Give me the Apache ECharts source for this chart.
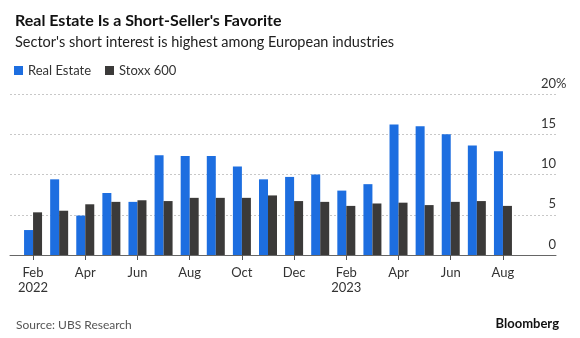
<!DOCTYPE html>
<html>
<head>
<meta charset="utf-8">
<script src="https://cdn.jsdelivr.net/npm/echarts@6/dist/echarts.min.js"></script>
<style>
  html, body { margin: 0; padding: 0; background: #fff; }
  #chart { width: 580px; height: 338px; }
</style>
</head>
<body>
<div id="chart"></div>
<script>
// Short interest by month, % of shares
const months = ['Feb', 'Mar', 'Apr', 'May', 'Jun', 'Jul', 'Aug', 'Sep', 'Oct', 'Nov', 'Dec',
                'Jan', 'Feb', 'Mar', 'Apr', 'May', 'Jun', 'Jul', 'Aug'];
const years = ['2022', '', '', '', '', '', '', '', '', '', '', '', '2023', '', '', '', '', '', ''];
const realEstate = [3.1, 9.4, 4.9, 7.7, 6.6, 12.4, 12.3, 12.3, 11.0, 9.4, 9.7,
                    10.0, 8.0, 8.8, 16.2, 16.0, 15.0, 13.6, 12.9];
const stoxx600 = [5.3, 5.5, 6.3, 6.6, 6.8, 6.7, 7.1, 7.1, 7.1, 7.4, 6.7,
                  6.6, 6.1, 6.4, 6.5, 6.2, 6.6, 6.7, 6.1];
const yMin = 0, yMax = 20, yStep = 5;

const FONT = 'Lato, "Noto Sans", sans-serif';
const BLUE = '#1d6ee0';
const DARK = '#3b3a39';

const chart = echarts.init(document.getElementById('chart'), null, { renderer: 'canvas' });

const option = {
  animation: false,
  textStyle: { fontFamily: FONT },
  title: [
    { text: "Real Estate Is a Short-Seller's Favorite", left: 10, top: 8,
      textStyle: { fontFamily: FONT, fontSize: 16, fontWeight: 'bold', color: '#111' } },
    { text: "Sector's short interest is highest among European industries", left: 10, top: 30,
      textStyle: { fontFamily: FONT, fontSize: 14.5, fontWeight: 'normal', color: '#222' } },
    { text: 'Source: UBS Research', left: 11, top: 314,
      textStyle: { fontFamily: FONT, fontSize: 12, fontWeight: 'normal', color: '#555' } },
    { text: 'Bloomberg', right: 16, top: 312,
      textStyle: { fontFamily: FONT, fontSize: 13, fontWeight: 'bold', color: '#111' } }
  ],
  legend: {
    left: 9, top: 59, itemWidth: 9, itemHeight: 9, itemGap: 14, icon: 'rect',
    textStyle: { fontFamily: FONT, fontSize: 13, color: '#333' },
    data: ['Real Estate', 'Stoxx 600']
  },
  grid: [
    { left: 10, right: 24, top: 94, bottom: 83 },
    { left: 20, right: 64, top: 94, bottom: 83 }
  ],
  xAxis: [
    { type: 'value', gridIndex: 0, min: 0, max: 1,
      axisLine: { show: true, lineStyle: { color: '#666', width: 1 } },
      axisTick: { show: false }, axisLabel: { show: false }, splitLine: { show: false } },
    { type: 'category', gridIndex: 1, data: months,
      axisLine: { show: false },
      axisTick: { show: true, alignWithLabel: true, interval: 1, length: 5,
                  lineStyle: { color: '#555' } },
      axisLabel: { interval: 1, margin: 10, fontSize: 13, lineHeight: 15, color: '#333',
                   fontFamily: FONT,
                   formatter: (v, i) => years[i] ? v + '\n' + years[i] : v } }
  ],
  yAxis: [
    { type: 'value', gridIndex: 0, position: 'right', min: yMin, max: yMax, interval: yStep,
      axisLine: { show: false }, axisTick: { show: false },
      splitLine: { show: true, lineStyle: { color: '#c8c8c8', type: [2, 2], width: 1 } },
      axisLabel: { inside: true, margin: 0, align: 'right', verticalAlign: 'bottom',
                   padding: [0, 0, 4, 0], fontSize: 13, color: '#333', fontFamily: FONT } },
    { type: 'value', gridIndex: 0, position: 'right', min: yMin, max: yMax, interval: yStep,
      axisLine: { show: false }, axisTick: { show: false }, splitLine: { show: false },
      axisLabel: { inside: false, margin: 0, align: 'left', verticalAlign: 'bottom',
                   padding: [0, 0, 4, 0], fontSize: 13, color: '#333', fontFamily: FONT,
                   formatter: v => (v === yMax ? '%' : '') } },
    { type: 'value', gridIndex: 1, min: yMin, max: yMax, show: false }
  ],
  series: [
    { name: 'Real Estate', type: 'bar', xAxisIndex: 1, yAxisIndex: 2,
      data: realEstate, barWidth: 9, barGap: '0%', itemStyle: { color: BLUE } },
    { name: 'Stoxx 600', type: 'bar', xAxisIndex: 1, yAxisIndex: 2,
      data: stoxx600, barWidth: 9, barGap: '0%', itemStyle: { color: DARK } }
  ]
};

chart.setOption(option);
</script>
</body>
</html>
